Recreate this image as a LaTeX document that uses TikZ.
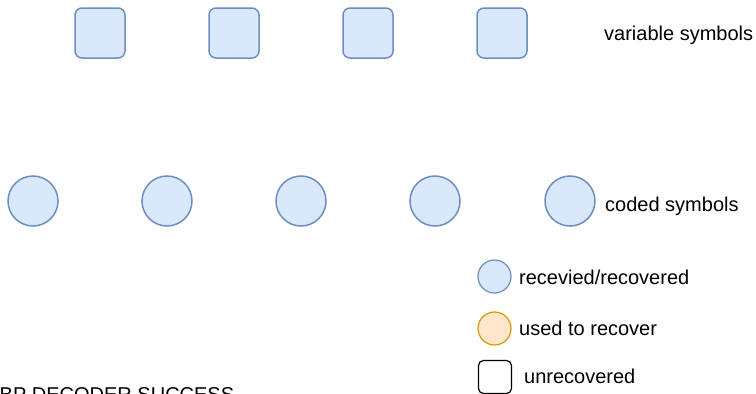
\documentclass[tikz,border=0pt]{standalone}
\usepackage{fontspec}
\setmainfont{Liberation Sans}
\definecolor{blfill}{HTML}{DAE8FC}
\definecolor{bldraw}{HTML}{6C8EBF}
\definecolor{orfill}{HTML}{FFE6CC}
\definecolor{ordraw}{HTML}{D79B00}
\tikzset{
  varsym/.style={draw=bldraw, fill=blfill, line width=1.5pt, rounded corners=7pt,
    rectangle, minimum size=50pt, inner sep=0pt},
  codsym/.style={draw=bldraw, fill=blfill, line width=1.5pt, circle,
    minimum size=50pt, inner sep=0pt},
  keyblue/.style={draw=bldraw, fill=blfill, line width=1.2pt, circle,
    minimum size=33pt, inner sep=0pt},
  keyorange/.style={draw=ordraw, fill=orfill, line width=1.2pt, circle,
    minimum size=33pt, inner sep=0pt},
  keyplain/.style={draw=black, fill=white, line width=1.2pt, rectangle,
    rounded corners=5pt, minimum size=33pt, inner sep=0pt},
  lbl/.style={anchor=base west, inner sep=0pt, font=\fontsize{20pt}{24pt}\selectfont}
}
\begin{document}
\begin{tikzpicture}[x=1pt, y=-1pt]
  \useasboundingbox (0,0) rectangle (756,394);
  % variable symbols
  \node[varsym] (v1) at (100,33) {};
  \node[varsym] (v2) at (234,33) {};
  \node[varsym] (v3) at (368,33) {};
  \node[varsym] (v4) at (502,33) {};
  \node[lbl] (vlab) at (604,40) {variable symbols};
  % coded symbols
  \node[codsym] (c1) at (33,201) {};
  \node[codsym] (c2) at (167,201) {};
  \node[codsym] (c3) at (301,201) {};
  \node[codsym] (c4) at (435,201) {};
  \node[codsym] (c5) at (570,201) {};
  \node[lbl] (clab) at (605,211) {coded symbols};
  % legend
  \node[keyblue] (k1) at (494.5,276.5) {};
  \node[lbl] (k1lab) at (519,284) {recevied/recovered};
  \node[keyorange] (k2) at (494.5,328.5) {};
  \node[lbl] (k2lab) at (519,335) {used to recover};
  \node[keyplain] (k3) at (495,377) {};
  \node[lbl] (k3lab) at (524,383.5) {unrecovered};
  % status line
  \node[lbl] (status) at (-0.5,401.5) {BP DECODER SUCCESS};
\end{tikzpicture}
\end{document}
